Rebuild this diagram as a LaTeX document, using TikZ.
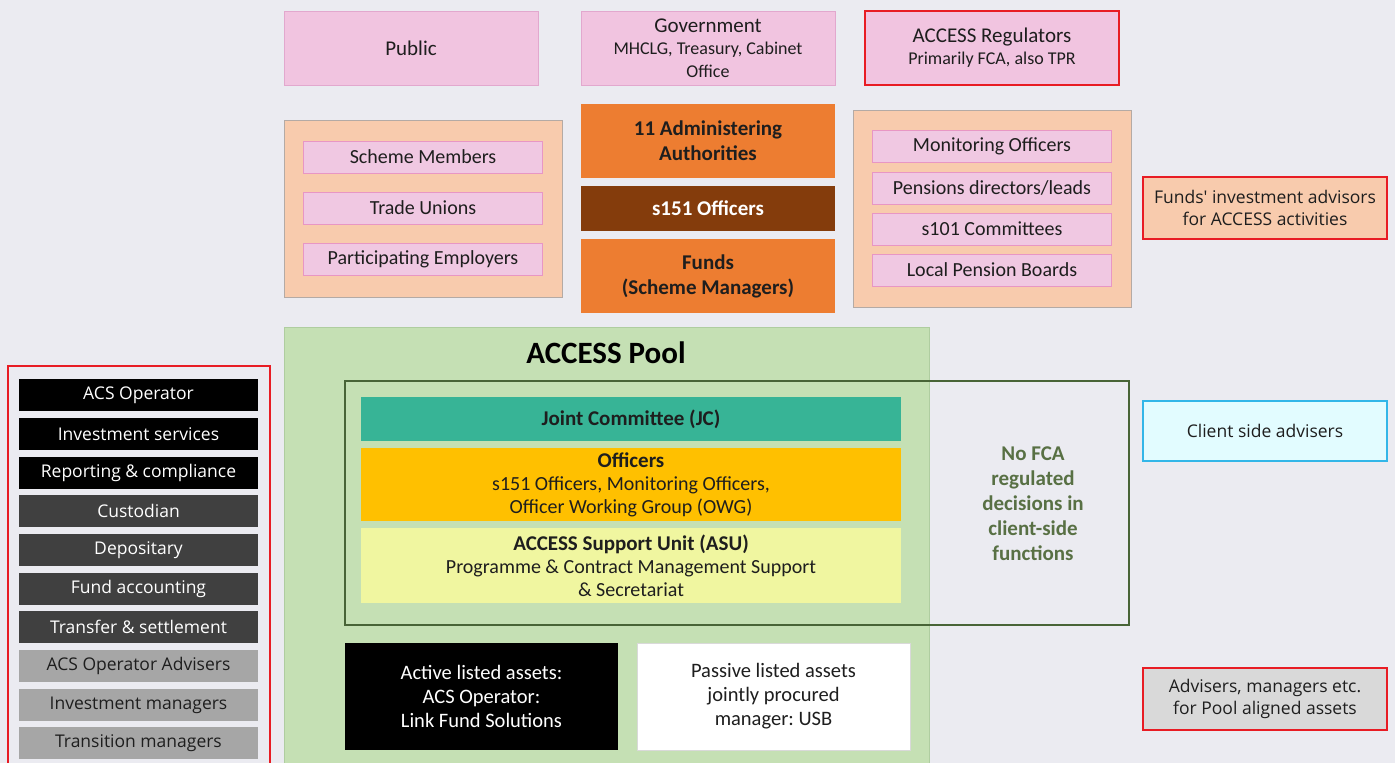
\documentclass[tikz,border=0pt]{standalone}
\usepackage{fontspec}
\setmainfont{Carlito}
\newfontfamily\osans{Open Sans}
\frenchspacing
\definecolor{bg}{RGB}{235,235,241}
\definecolor{pinkf}{RGB}{241,196,224}
\definecolor{pinkd}{RGB}{226,168,206}
\definecolor{peach}{RGB}{248,203,173}
\definecolor{peachd}{RGB}{180,170,165}
\definecolor{itemf}{RGB}{240,200,226}
\definecolor{itemd}{RGB}{232,150,196}
\definecolor{orng}{RGB}{237,125,49}
\definecolor{brwn}{RGB}{132,60,12}
\definecolor{poolg}{RGB}{197,224,180}
\definecolor{poold}{RGB}{175,205,160}
\definecolor{framec}{RGB}{72,100,55}
\definecolor{teal}{RGB}{55,180,150}
\definecolor{gold}{RGB}{255,192,0}
\definecolor{lyel}{RGB}{240,246,160}
\definecolor{txtg}{RGB}{88,112,68}
\definecolor{cyand}{RGB}{50,182,232}
\definecolor{cyanf}{RGB}{226,252,255}
\definecolor{redc}{RGB}{232,28,36}
\definecolor{grayf}{RGB}{217,217,217}
\definecolor{dgray}{RGB}{64,64,64}
\definecolor{mgray}{RGB}{166,166,166}
\definecolor{txtd}{RGB}{30,30,30}
\tikzset{
  every node/.style={inner sep=0pt, outer sep=0pt, align=center, text=txtd},
  pinkbox/.style={draw=pinkd, fill=pinkf, line width=0.8pt, font=\fontsize{21}{25}\selectfont},
  panel/.style={draw=peachd, fill=peach, line width=0.8pt},
  item/.style={draw=itemd, fill=itemf, line width=0.8pt, minimum width=239pt, minimum height=32pt, font=\fontsize{20}{24}\selectfont},
  orbox/.style={fill=orng, minimum width=254pt, font=\bfseries\fontsize{21}{25}\selectfont},
  redbox/.style={draw=redc, line width=2.2pt},
  lst/.style={minimum width=239pt, minimum height=32pt, font=\osans\fontsize{17.5}{21}\selectfont},
  lblk/.style={lst, fill=black, text=white},
  ldark/.style={lst, fill=dgray, text=white},
  lgray/.style={lst, fill=mgray, text=txtd},
  side/.style={minimum width=244pt, font=\osans\fontsize{17.5}{22}\selectfont},
  band/.style={minimum width=540pt, font=\fontsize{20}{23}\selectfont},
  asset/.style={minimum width=273pt, minimum height=107pt, font=\fontsize{20.5}{24}\selectfont}
}
\begin{document}
\begin{tikzpicture}[x=1pt,y=-1pt]
\useasboundingbox (0,0) rectangle (1395,763);
\clip (0,0) rectangle (1395,763);
\fill[bg] (0,0) rectangle (1395,763);
% top row
\node[pinkbox, minimum width=254pt, minimum height=74pt] (pub) at (411,48) {Public};
\node[pinkbox, minimum width=254pt, minimum height=74pt] (gov) at (708,48) {Government\\[-3pt]{\fontsize{18}{22}\selectfont MHCLG, Treasury, Cabinet}\\[-2pt]{\fontsize{18}{22}\selectfont Office}};
\node[pinkbox, draw=redc, line width=2.2pt, minimum width=254pt, minimum height=74pt] (reg) at (992,48) {ACCESS Regulators\\[-3pt]{\fontsize{18}{22}\selectfont Primarily FCA, also TPR}};
% left panel
\node[panel, minimum width=278pt, minimum height=177pt] (lp) at (423,208.5) {};
\node[item] (sm) at (423,157) {Scheme Members};
\node[item] (tu) at (423,208) {Trade Unions};
\node[item] (pe) at (423,259) {Participating Employers};
% centre column
\node[orbox, minimum height=74pt] (aa) at (708,141) {11 Administering\\Authorities};
\node[orbox, fill=brwn, text=white, minimum height=45pt] (s151) at (708,208.5) {s151 Officers};
\node[orbox, minimum height=74pt] (funds) at (708,276) {Funds\\(Scheme Managers)};
% right panel
\node[panel, minimum width=278pt, minimum height=197pt] (rp) at (992,208.5) {};
\node[item] (mo) at (992,146.5) {Monitoring Officers};
\node[item] (pd) at (992,188) {Pensions directors/leads};
\node[item] (sc) at (992,229) {s101 Committees};
\node[item] (lpb) at (992,270) {Local Pension Boards};
% right side boxes
\node[side, redbox, fill=peach, minimum height=62pt] (fia) at (1265,208) {Funds' investment advisors\\for ACCESS activities};
\node[side, draw=cyand, line width=2.2pt, fill=cyanf, minimum height=60pt] (csa) at (1265,431) {Client side advisers};
\node[side, redbox, fill=grayf, minimum height=62pt] (adv) at (1265,699) {Advisers, managers etc.\\for Pool aligned assets};
% pool
\node[draw=poold, fill=poolg, line width=0.8pt, minimum width=645pt, minimum height=460pt] (pool) at (606.5,557) {};
\node[font=\bfseries\fontsize{31}{36}\selectfont, text=black] (pt) at (606,353) {ACCESS Pool};
\node[draw=framec, line width=2pt, minimum width=784pt, minimum height=244pt] (frame) at (737,503) {};
\node[band, fill=teal, minimum height=44pt, font=\bfseries\fontsize{21}{25}\selectfont] (jc) at (631,419) {Joint Committee (JC)};
\node[band, fill=gold, minimum height=73pt] (off) at (631,484.5) {{\bfseries\fontsize{21}{24}\selectfont Officers}\\s151 Officers, Monitoring Officers,\\Officer Working Group (OWG)};
\node[band, fill=lyel, minimum height=75pt] (asu) at (631,565.5) {{\bfseries\fontsize{21}{24}\selectfont ACCESS Support Unit (ASU)}\\Programme \& Contract Management Support\\\& Secretariat};
\node[text=txtg, font=\bfseries\fontsize{21}{25}\selectfont] (nofca) at (1033,504) {No FCA\\regulated\\decisions in\\client-side\\functions};
\node[asset, fill=black, text=white] (act) at (481.5,696.5) {Active listed assets:\\ACS Operator:\\Link Fund Solutions};
\node[asset, fill=white, draw=grayf, line width=0.6pt] (pas) at (773.5,696.5) {Passive listed assets\\jointly procured\\manager: USB};
% left list
\node[draw=redc, line width=2.2pt, minimum width=262pt, minimum height=420pt] (lf) at (139,576) {};
\node[lblk] (l1) at (138.5,395) {ACS Operator};
\node[lblk] (l2) at (138.5,434) {Investment services};
\node[lblk] (l3) at (138.5,473) {Reporting \& compliance};
\node[ldark] (l4) at (138.5,511) {Custodian};
\node[ldark] (l5) at (138.5,550) {Depositary};
\node[ldark] (l6) at (138.5,589) {Fund accounting};
\node[ldark] (l7) at (138.5,627) {Transfer \& settlement};
\node[lgray] (l8) at (138.5,666) {ACS Operator Advisers};
\node[lgray] (l9) at (138.5,705) {Investment managers};
\node[lgray] (l10) at (138.5,743) {Transition managers};
\end{tikzpicture}
\end{document}
